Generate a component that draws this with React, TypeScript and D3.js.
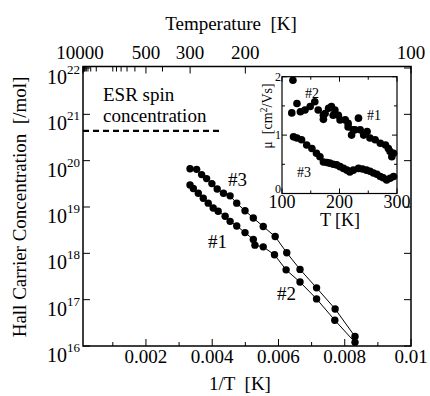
import * as d3 from "d3";

// main plot: 1/T vs Hall carrier concentration
const upperInvT = [0.00333, 0.00353, 0.00368, 0.00383, 0.00399, 0.00415, 0.00434, 0.00454, 0.00474, 0.00499, 0.00524, 0.00554, 0.0059, 0.00625, 0.00665, 0.00715, 0.00771, 0.00831];
const upperConc = [6.7e19, 6.5e19, 5.0e19, 4.1e19, 3.2e19, 2.45e19, 1.98e19, 1.74e19, 1.21e19, 8.3e18, 5.8e18, 3.8e18, 2.3e18, 1.03e18, 4.5e17, 1.8e17, 6.3e16, 1.6e16];
const lowerInvT = [0.00333, 0.00343, 0.00358, 0.00373, 0.00388, 0.00403, 0.00418, 0.00439, 0.00454, 0.00474, 0.00499, 0.00524, 0.00529, 0.00554, 0.00588, 0.00623, 0.00665, 0.00715, 0.0077, 0.00831];
const lowerConc = [3.0e19, 2.5e19, 1.98e19, 1.55e19, 1.21e19, 9.5e18, 8.1e18, 6.3e18, 4.9e18, 3.9e18, 2.8e18, 2.0e18, 1.5e18, 1.38e18, 9.3e17, 4.4e17, 2.4e17, 1.04e17, 3.6e16, 1.2e16];
const esrInvT = [0.0001, 0.0043];
const esrConc = 4.4e20;

const xMajor = [0.002, 0.004, 0.006, 0.008, 0.01];
const xMinor = [0.001, 0.003, 0.005, 0.007, 0.009];
const yDecades = [16, 17, 18, 19, 20, 21, 22];
const topLabels = [10000, 500, 300, 200, 100];
const topTicks = [10000, 9000, 8000, 7000, 6000, 5000, 4000, 3000, 2000, 1000, 900, 800, 700, 600, 500, 400, 300, 200, 100];

// inset: mobility vs T
const insetUpperT = [119, 117, 126, 132, 140, 149, 157, 163, 172, 172, 175, 181, 186, 189, 192, 198, 201, 210, 215, 215, 221, 224, 227, 233, 236, 242, 248, 253, 262, 271, 280, 285, 288, 291, 294];
const insetUpperMu = [1.94, 1.38, 1.54, 1.40, 1.43, 1.49, 1.57, 1.43, 1.27, 1.34, 1.37, 1.46, 1.49, 1.34, 1.43, 1.34, 1.26, 1.26, 1.20, 1.14, 1.0, 1.09, 1.09, 1.29, 1.09, 1.0, 1.06, 0.95, 0.92, 0.86, 0.83, 0.77, 0.72, 0.63, 0.69];
const insetLowerT = [120, 126, 134, 143, 152, 160, 166, 172, 178, 183, 189, 195, 201, 207, 213, 218, 224, 233, 240, 247, 253, 259, 265, 271, 276, 282, 288, 294];
const insetLowerMu = [0.97, 0.95, 0.92, 0.83, 0.77, 0.69, 0.63, 0.54, 0.53, 0.52, 0.5, 0.49, 0.46, 0.43, 0.4, 0.37, 0.4, 0.43, 0.42, 0.4, 0.38, 0.35, 0.33, 0.29, 0.27, 0.23, 0.26, 0.29];
const insetXTicks = [100, 200, 300];
const insetXMinor = [150, 250];
const insetYTicks = [0, 1, 2];
const insetYMinor = [0.5, 1.5];

const FONT = "'Liberation Serif'";

const left = 83, right = 411, top = 66.5, bottom = 346;
const x = d3.scaleLinear().domain([0.0001, 0.01]).range([left, right]);
const y = d3.scaleLog().domain([1e16, 1e22]).range([bottom, top + 1.5]);

const il = 282, ir = 397, it = 76.7, ib = 193.5;
const ix = d3.scaleLinear().domain([100, 300]).range([il, ir]);
const iy = d3.scaleLinear().domain([0, 2]).range([ib, it]);

const line = d3.line<[number, number]>().x((d) => x(d[0])).y((d) => y(d[1]));
const series = [
  upperInvT.map((v, i) => [v, upperConc[i]] as [number, number]),
  lowerInvT.map((v, i) => [v, lowerConc[i]] as [number, number]),
];

const T = (props: any) => <text fill="#000" style={{ fontFamily: FONT, whiteSpace: "pre" }} {...props} />;

export default function App() {
  return (
    <svg width={430} height={396} style={{ position: "absolute", left: 0, top: 0, background: "#fff" }}>
      {/* ESR spin concentration */}
      <line x1={x(esrInvT[0])} x2={x(esrInvT[1])} y1={y(esrConc)} y2={y(esrConc)} stroke="#000" strokeWidth={2.2} strokeDasharray="6,4" />
      <T x={103} y={101} fontSize={19}>ESR spin</T>
      <T x={103} y={122} fontSize={19}>concentration</T>

      {series.map((s, k) => (
        <g key={k}>
          <path d={line(s) ?? ""} fill="none" stroke="#000" strokeWidth={1} />
          {s.map((d, i) => <circle key={i} cx={x(d[0])} cy={y(d[1])} r={3.7} fill="#000" />)}
        </g>
      ))}
      <T x={228} y={186} fontSize={19}>#3</T>
      <T x={208} y={248} fontSize={19}>#1</T>
      <T x={277} y={300} fontSize={19}>#2</T>

      <rect x={left} y={top} width={right - left} height={bottom - top} fill="none" stroke="#000" strokeWidth={1.5} />

      {xMajor.map((v) => (
        <g key={v}>
          <line x1={x(v)} x2={x(v)} y1={bottom} y2={bottom - 7} stroke="#000" />
          <T x={x(v)} y={363} fontSize={19} textAnchor="middle">{v === 0.01 ? "0.01" : d3.format(".3f")(v)}</T>
        </g>
      ))}
      {xMinor.map((v) => <line key={v} x1={x(v)} x2={x(v)} y1={bottom} y2={bottom - 4} stroke="#000" />)}

      {topTicks.map((t) => (
        <line key={t} x1={x(1 / t)} x2={x(1 / t)} y1={top} y2={top + (topLabels.includes(t) ? 7 : 5)} stroke="#000" />
      ))}
      {topLabels.map((t) => (
        <T key={t} x={x(1 / t) - (t === 10000 ? 3 : 0)} y={59} fontSize={19} textAnchor="middle">{t}</T>
      ))}

      {yDecades.map((p) => {
        const yy = y(Math.pow(10, p));
        return (
          <g key={p}>
            <line x1={left} x2={left + 7} y1={yy} y2={yy} stroke="#000" />
            <line x1={right} x2={right - 7} y1={yy} y2={yy} stroke="#000" />
            <T x={80} y={yy + 16} fontSize={20} textAnchor="end">
              10<tspan dy={-10} fontSize={13}>{p}</tspan>
            </T>
          </g>
        );
      })}

      <T x={231} y={30} fontSize={19} textAnchor="middle">Temperature  [K]</T>
      <T x={240} y={390} fontSize={19} textAnchor="middle">1/T  [K]</T>
      <T transform="translate(26,207) rotate(-90)" fontSize={19} textAnchor="middle">Hall Carrier Concentration  [/mol]</T>

      {/* inset */}
      <rect x={il} y={it} width={ir - il} height={ib - it} fill="#fff" stroke="#000" strokeWidth={1.2} />
      {insetUpperT.map((t, i) => <circle key={"u" + i} cx={ix(t)} cy={iy(insetUpperMu[i])} r={3.8} fill="#000" />)}
      {insetLowerT.map((t, i) => <circle key={"l" + i} cx={ix(t)} cy={iy(insetLowerMu[i])} r={3.8} fill="#000" />)}
      {insetXTicks.concat(insetXMinor).map((v) => {
        const len = insetXTicks.includes(v) ? 5 : 3;
        return (
          <g key={v}>
            <line x1={ix(v)} x2={ix(v)} y1={ib} y2={ib - len} stroke="#000" />
            <line x1={ix(v)} x2={ix(v)} y1={it} y2={it + len} stroke="#000" />
          </g>
        );
      })}
      {insetYTicks.concat(insetYMinor).map((v) => {
        const len = insetYTicks.includes(v) ? 5 : 3;
        return (
          <g key={v}>
            <line x1={il} x2={il + len} y1={iy(v)} y2={iy(v)} stroke="#000" />
            <line x1={ir} x2={ir - len} y1={iy(v)} y2={iy(v)} stroke="#000" />
          </g>
        );
      })}
      {insetXTicks.map((v) => <T key={v} x={ix(v)} y={208} fontSize={18} textAnchor="middle">{v}</T>)}
      {insetYTicks.map((v) => <T key={v} x={il - 1} y={iy(v) + (v === 0 ? -1 : 4)} fontSize={12} textAnchor="end">{v}</T>)}
      <T x={340} y={226} fontSize={18} textAnchor="middle">T [K]</T>
      <T transform="translate(272,116) rotate(-90)" fontSize={14} textAnchor="middle">
        μ  [cm<tspan dy={-5} fontSize={10}>2</tspan><tspan dy={5}>/Vs]</tspan>
      </T>
      <T x={305} y={98} fontSize={14}>#2</T>
      <T x={367} y={120} fontSize={14}>#1</T>
      <T x={297} y={177} fontSize={14}>#3</T>
    </svg>
  );
}
